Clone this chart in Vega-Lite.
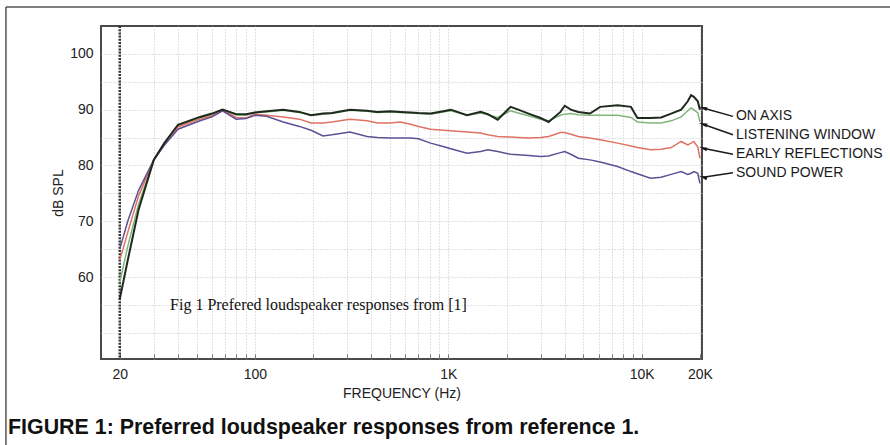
{
  "$schema": "https://vega.github.io/schema/vega-lite/v6.json",
  "width": 601,
  "height": 333,
  "autosize": {"type": "none"},
  "padding": {"left": 101, "top": 26, "right": 188, "bottom": 86},
  "background": "white",
  "config": {
    "view": {"stroke": "#4a4a4a", "strokeWidth": 2},
    "font": "Liberation Sans",
    "axis": {
      "labelFont": "Liberation Sans", "titleFont": "Liberation Sans",
      "labelFontSize": 14, "titleFontSize": 14, "titleFontWeight": "normal",
      "labelColor": "#222", "titleColor": "#222", "domain": false, "ticks": false
    }
  },
  "title": {
    "text": "FIGURE 1: Preferred loudspeaker responses from reference 1.",
    "orient": "bottom", "anchor": "start", "frame": "group",
    "dx": -93, "offset": -13, "baseline": "alphabetic",
    "font": "Liberation Sans", "fontSize": 21.4, "fontWeight": "bold", "color": "#111"
  },
  "datasets": {
    "curves": [
      {"f":20,"s":"ON AXIS","db":56},{"f":22,"s":"ON AXIS","db":63},{"f":25,"s":"ON AXIS","db":72},{"f":30,"s":"ON AXIS","db":81},{"f":34,"s":"ON AXIS","db":84},{"f":40,"s":"ON AXIS","db":87.3},{"f":52,"s":"ON AXIS","db":88.7},{"f":60,"s":"ON AXIS","db":89.3},{"f":68,"s":"ON AXIS","db":90.0},{"f":80,"s":"ON AXIS","db":89.2},{"f":90,"s":"ON AXIS","db":89.2},{"f":100,"s":"ON AXIS","db":89.5},{"f":115,"s":"ON AXIS","db":89.7},{"f":140,"s":"ON AXIS","db":90.0},{"f":170,"s":"ON AXIS","db":89.6},{"f":195,"s":"ON AXIS","db":89.0},{"f":225,"s":"ON AXIS","db":89.3},{"f":250,"s":"ON AXIS","db":89.4},{"f":310,"s":"ON AXIS","db":90.0},{"f":380,"s":"ON AXIS","db":89.8},{"f":430,"s":"ON AXIS","db":89.6},{"f":500,"s":"ON AXIS","db":89.7},{"f":565,"s":"ON AXIS","db":89.6},{"f":640,"s":"ON AXIS","db":89.5},{"f":700,"s":"ON AXIS","db":89.4},{"f":810,"s":"ON AXIS","db":89.3},{"f":940,"s":"ON AXIS","db":89.7},{"f":1030,"s":"ON AXIS","db":90.0},{"f":1250,"s":"ON AXIS","db":89.0},{"f":1470,"s":"ON AXIS","db":89.6},{"f":1600,"s":"ON AXIS","db":89.2},{"f":1800,"s":"ON AXIS","db":88.2},{"f":2100,"s":"ON AXIS","db":90.5},{"f":2300,"s":"ON AXIS","db":90.0},{"f":2600,"s":"ON AXIS","db":89.3},{"f":3000,"s":"ON AXIS","db":88.5},{"f":3300,"s":"ON AXIS","db":87.8},{"f":3800,"s":"ON AXIS","db":89.6},{"f":4000,"s":"ON AXIS","db":90.7},{"f":4300,"s":"ON AXIS","db":90.0},{"f":4700,"s":"ON AXIS","db":89.6},{"f":5400,"s":"ON AXIS","db":89.3},{"f":6100,"s":"ON AXIS","db":90.5},{"f":7500,"s":"ON AXIS","db":90.8},{"f":8800,"s":"ON AXIS","db":90.5},{"f":9500,"s":"ON AXIS","db":88.5},{"f":11100,"s":"ON AXIS","db":88.5},{"f":12600,"s":"ON AXIS","db":88.6},{"f":14200,"s":"ON AXIS","db":89.3},{"f":16000,"s":"ON AXIS","db":90.0},{"f":17300,"s":"ON AXIS","db":91.5},{"f":18000,"s":"ON AXIS","db":92.6},{"f":18600,"s":"ON AXIS","db":92.3},{"f":19500,"s":"ON AXIS","db":91.5},{"f":20000,"s":"ON AXIS","db":90.0},
      {"f":20,"s":"LISTENING WINDOW","db":59},{"f":22,"s":"LISTENING WINDOW","db":65.5},{"f":25,"s":"LISTENING WINDOW","db":73},{"f":30,"s":"LISTENING WINDOW","db":81},{"f":34,"s":"LISTENING WINDOW","db":84},{"f":40,"s":"LISTENING WINDOW","db":87.1},{"f":52,"s":"LISTENING WINDOW","db":88.5},{"f":60,"s":"LISTENING WINDOW","db":89.1},{"f":68,"s":"LISTENING WINDOW","db":90.0},{"f":80,"s":"LISTENING WINDOW","db":89.1},{"f":90,"s":"LISTENING WINDOW","db":89.0},{"f":100,"s":"LISTENING WINDOW","db":89.5},{"f":115,"s":"LISTENING WINDOW","db":89.6},{"f":140,"s":"LISTENING WINDOW","db":89.9},{"f":170,"s":"LISTENING WINDOW","db":89.5},{"f":195,"s":"LISTENING WINDOW","db":89.0},{"f":225,"s":"LISTENING WINDOW","db":89.2},{"f":250,"s":"LISTENING WINDOW","db":89.3},{"f":310,"s":"LISTENING WINDOW","db":89.9},{"f":380,"s":"LISTENING WINDOW","db":89.7},{"f":430,"s":"LISTENING WINDOW","db":89.5},{"f":500,"s":"LISTENING WINDOW","db":89.6},{"f":565,"s":"LISTENING WINDOW","db":89.5},{"f":640,"s":"LISTENING WINDOW","db":89.4},{"f":700,"s":"LISTENING WINDOW","db":89.3},{"f":810,"s":"LISTENING WINDOW","db":89.2},{"f":940,"s":"LISTENING WINDOW","db":89.6},{"f":1030,"s":"LISTENING WINDOW","db":89.8},{"f":1250,"s":"LISTENING WINDOW","db":89.0},{"f":1470,"s":"LISTENING WINDOW","db":89.4},{"f":1600,"s":"LISTENING WINDOW","db":89.1},{"f":1800,"s":"LISTENING WINDOW","db":88.6},{"f":2100,"s":"LISTENING WINDOW","db":89.8},{"f":2300,"s":"LISTENING WINDOW","db":89.4},{"f":2600,"s":"LISTENING WINDOW","db":88.9},{"f":3000,"s":"LISTENING WINDOW","db":88.3},{"f":3300,"s":"LISTENING WINDOW","db":88.0},{"f":3800,"s":"LISTENING WINDOW","db":89.0},{"f":4000,"s":"LISTENING WINDOW","db":89.2},{"f":4300,"s":"LISTENING WINDOW","db":89.3},{"f":4700,"s":"LISTENING WINDOW","db":89.1},{"f":5400,"s":"LISTENING WINDOW","db":89.0},{"f":6100,"s":"LISTENING WINDOW","db":89.0},{"f":7500,"s":"LISTENING WINDOW","db":89.0},{"f":8800,"s":"LISTENING WINDOW","db":88.6},{"f":9500,"s":"LISTENING WINDOW","db":87.8},{"f":11100,"s":"LISTENING WINDOW","db":87.6},{"f":12600,"s":"LISTENING WINDOW","db":87.6},{"f":14200,"s":"LISTENING WINDOW","db":88.0},{"f":16000,"s":"LISTENING WINDOW","db":88.7},{"f":17300,"s":"LISTENING WINDOW","db":89.8},{"f":18000,"s":"LISTENING WINDOW","db":90.3},{"f":18600,"s":"LISTENING WINDOW","db":90.0},{"f":19500,"s":"LISTENING WINDOW","db":89.4},{"f":20000,"s":"LISTENING WINDOW","db":87.8},
      {"f":20,"s":"EARLY REFLECTIONS","db":63},{"f":22,"s":"EARLY REFLECTIONS","db":68},{"f":25,"s":"EARLY REFLECTIONS","db":74.5},{"f":30,"s":"EARLY REFLECTIONS","db":81},{"f":34,"s":"EARLY REFLECTIONS","db":83.8},{"f":40,"s":"EARLY REFLECTIONS","db":86.9},{"f":52,"s":"EARLY REFLECTIONS","db":88.3},{"f":60,"s":"EARLY REFLECTIONS","db":88.9},{"f":68,"s":"EARLY REFLECTIONS","db":89.9},{"f":80,"s":"EARLY REFLECTIONS","db":88.6},{"f":90,"s":"EARLY REFLECTIONS","db":88.5},{"f":100,"s":"EARLY REFLECTIONS","db":89.2},{"f":115,"s":"EARLY REFLECTIONS","db":89.0},{"f":140,"s":"EARLY REFLECTIONS","db":88.7},{"f":170,"s":"EARLY REFLECTIONS","db":88.3},{"f":195,"s":"EARLY REFLECTIONS","db":87.6},{"f":225,"s":"EARLY REFLECTIONS","db":87.6},{"f":250,"s":"EARLY REFLECTIONS","db":87.8},{"f":310,"s":"EARLY REFLECTIONS","db":88.3},{"f":380,"s":"EARLY REFLECTIONS","db":88.0},{"f":430,"s":"EARLY REFLECTIONS","db":87.6},{"f":500,"s":"EARLY REFLECTIONS","db":87.6},{"f":565,"s":"EARLY REFLECTIONS","db":87.8},{"f":640,"s":"EARLY REFLECTIONS","db":87.4},{"f":700,"s":"EARLY REFLECTIONS","db":87.0},{"f":810,"s":"EARLY REFLECTIONS","db":86.5},{"f":940,"s":"EARLY REFLECTIONS","db":86.3},{"f":1030,"s":"EARLY REFLECTIONS","db":86.2},{"f":1250,"s":"EARLY REFLECTIONS","db":86.0},{"f":1470,"s":"EARLY REFLECTIONS","db":85.8},{"f":1600,"s":"EARLY REFLECTIONS","db":85.5},{"f":1800,"s":"EARLY REFLECTIONS","db":85.2},{"f":2100,"s":"EARLY REFLECTIONS","db":85.1},{"f":2300,"s":"EARLY REFLECTIONS","db":85.0},{"f":2600,"s":"EARLY REFLECTIONS","db":84.9},{"f":3000,"s":"EARLY REFLECTIONS","db":85.0},{"f":3300,"s":"EARLY REFLECTIONS","db":85.2},{"f":3800,"s":"EARLY REFLECTIONS","db":85.9},{"f":4000,"s":"EARLY REFLECTIONS","db":85.9},{"f":4300,"s":"EARLY REFLECTIONS","db":85.6},{"f":4700,"s":"EARLY REFLECTIONS","db":85.2},{"f":5400,"s":"EARLY REFLECTIONS","db":84.9},{"f":6100,"s":"EARLY REFLECTIONS","db":84.6},{"f":7500,"s":"EARLY REFLECTIONS","db":84.0},{"f":8800,"s":"EARLY REFLECTIONS","db":83.5},{"f":9500,"s":"EARLY REFLECTIONS","db":83.2},{"f":11100,"s":"EARLY REFLECTIONS","db":82.8},{"f":12600,"s":"EARLY REFLECTIONS","db":82.9},{"f":14200,"s":"EARLY REFLECTIONS","db":83.2},{"f":16000,"s":"EARLY REFLECTIONS","db":84.3},{"f":17300,"s":"EARLY REFLECTIONS","db":83.7},{"f":18000,"s":"EARLY REFLECTIONS","db":84.0},{"f":18600,"s":"EARLY REFLECTIONS","db":84.3},{"f":19500,"s":"EARLY REFLECTIONS","db":83.3},{"f":20000,"s":"EARLY REFLECTIONS","db":81.3},
      {"f":20,"s":"SOUND POWER","db":65},{"f":22,"s":"SOUND POWER","db":70},{"f":25,"s":"SOUND POWER","db":75.5},{"f":30,"s":"SOUND POWER","db":81},{"f":34,"s":"SOUND POWER","db":83.6},{"f":40,"s":"SOUND POWER","db":86.5},{"f":52,"s":"SOUND POWER","db":88.0},{"f":60,"s":"SOUND POWER","db":88.7},{"f":68,"s":"SOUND POWER","db":89.8},{"f":80,"s":"SOUND POWER","db":88.3},{"f":90,"s":"SOUND POWER","db":88.4},{"f":100,"s":"SOUND POWER","db":89.0},{"f":115,"s":"SOUND POWER","db":88.8},{"f":140,"s":"SOUND POWER","db":87.8},{"f":170,"s":"SOUND POWER","db":87.0},{"f":195,"s":"SOUND POWER","db":86.3},{"f":225,"s":"SOUND POWER","db":85.3},{"f":250,"s":"SOUND POWER","db":85.5},{"f":310,"s":"SOUND POWER","db":86.0},{"f":380,"s":"SOUND POWER","db":85.2},{"f":430,"s":"SOUND POWER","db":85.0},{"f":500,"s":"SOUND POWER","db":84.9},{"f":565,"s":"SOUND POWER","db":84.9},{"f":640,"s":"SOUND POWER","db":84.9},{"f":700,"s":"SOUND POWER","db":84.8},{"f":810,"s":"SOUND POWER","db":84.0},{"f":940,"s":"SOUND POWER","db":83.4},{"f":1030,"s":"SOUND POWER","db":83.0},{"f":1250,"s":"SOUND POWER","db":82.2},{"f":1470,"s":"SOUND POWER","db":82.5},{"f":1600,"s":"SOUND POWER","db":82.8},{"f":1800,"s":"SOUND POWER","db":82.5},{"f":2100,"s":"SOUND POWER","db":82.0},{"f":2300,"s":"SOUND POWER","db":81.9},{"f":2600,"s":"SOUND POWER","db":81.8},{"f":3000,"s":"SOUND POWER","db":81.6},{"f":3300,"s":"SOUND POWER","db":81.7},{"f":3800,"s":"SOUND POWER","db":82.3},{"f":4000,"s":"SOUND POWER","db":82.5},{"f":4300,"s":"SOUND POWER","db":82.0},{"f":4700,"s":"SOUND POWER","db":81.3},{"f":5400,"s":"SOUND POWER","db":81.0},{"f":6100,"s":"SOUND POWER","db":80.6},{"f":7500,"s":"SOUND POWER","db":79.8},{"f":8800,"s":"SOUND POWER","db":78.9},{"f":9500,"s":"SOUND POWER","db":78.5},{"f":11100,"s":"SOUND POWER","db":77.7},{"f":12600,"s":"SOUND POWER","db":77.9},{"f":14200,"s":"SOUND POWER","db":78.4},{"f":16000,"s":"SOUND POWER","db":78.9},{"f":17300,"s":"SOUND POWER","db":78.4},{"f":18000,"s":"SOUND POWER","db":78.6},{"f":18600,"s":"SOUND POWER","db":78.9},{"f":19500,"s":"SOUND POWER","db":78.6},{"f":20000,"s":"SOUND POWER","db":76.8}
    ],
    "notes": [
      {"s":"ON AXIS","hx":20740,"hy":90.3,"tx":29640,"ty":88.8},
      {"s":"LISTENING WINDOW","hx":20740,"hy":87.4,"tx":29640,"ty":85.5},
      {"s":"EARLY REFLECTIONS","hx":20740,"hy":83.1,"tx":29640,"ty":82.0},
      {"s":"SOUND POWER","hx":20740,"hy":77.9,"tx":29640,"ty":78.7}
    ],
    "one": [{}]
  },
  "resolve": {"axis": {"x": "independent", "y": "independent"}},
  "layer": [
    {
      "data": {"name": "one"},
      "mark": {"type": "rule", "color": "#555", "strokeWidth": 1.5, "clip": false},
      "encoding": {
        "x": {"datum": 5.16, "type": "quantitative",
          "scale": {"type": "log", "domain": [16, 20500], "nice": false},
          "axis": {"orient": "bottom", "values": [20,30,40,50,60,70,80,90,100,200,300,400,500,600,700,800,900,1000,2000,3000,4000,5000,6000,7000,8000,9000,10000,20000],
            "grid": true, "gridColor": "#c4c4c4", "gridDash": [1, 2], "gridWidth": 1,
            "labels": false, "ticks": true, "tickSize": -5, "tickColor": "#777", "title": null, "domain": false}},
        "x2": {"datum": 1000000},
        "y": {"datum": 108.4, "type": "quantitative",
          "scale": {"domain": [45.3, 105], "nice": false, "zero": false},
          "axis": {"orient": "left", "values": [50,55,60,65,70,75,80,85,90,95,100],
            "grid": true, "gridColor": "#c4c4c4", "gridDash": [1, 2], "gridWidth": 1,
            "labels": false, "ticks": false, "title": null, "domain": false}}
      }
    },
    {
      "data": {"name": "one"},
      "mark": {"type": "rule", "color": "#555", "strokeWidth": 1.5, "clip": false},
      "encoding": {
        "x": {"datum": 5.16, "type": "quantitative", "axis": null},
        "y": {"datum": 108.4, "type": "quantitative", "axis": null},
        "y2": {"datum": 29.7}
      }
    },
    {
      "data": {"name": "one"},
      "mark": {"type": "rule", "color": "#333", "strokeWidth": 2.5, "strokeDash": [2, 1.2]},
      "encoding": {"x": {"datum": 20, "type": "quantitative", "axis": null}}
    },
    {
      "data": {"name": "curves"},
      "transform": [{"filter": "datum.s !== 'ON AXIS'"}],
      "mark": {"type": "line", "strokeWidth": 1.5},
      "encoding": {
        "x": {"field": "f", "type": "quantitative",
          "axis": {"orient": "bottom", "values": [20, 100, 1000, 10000, 20000],
            "labelExpr": "datum.value >= 1000 ? (datum.value / 1000) + 'K' : datum.value",
            "grid": false, "title": "FREQUENCY (Hz)", "labelPadding": 8, "titlePadding": 5, "labelFlush": false}},
        "y": {"field": "db", "type": "quantitative",
          "axis": {"orient": "left", "values": [60, 70, 80, 90, 100], "grid": false,
            "title": "dB SPL", "labelPadding": 8, "titlePadding": 4}},
        "color": {"field": "s", "type": "nominal", "legend": null,
          "scale": {"domain": ["ON AXIS", "LISTENING WINDOW", "EARLY REFLECTIONS", "SOUND POWER"],
            "range": ["#1f2a1f", "#82b57c", "#e07262", "#5f4f94"]}}
      }
    },
    {
      "data": {"name": "curves"},
      "transform": [{"filter": "datum.s === 'ON AXIS'"}],
      "mark": {"type": "line", "strokeWidth": 2},
      "encoding": {
        "x": {"field": "f", "type": "quantitative", "axis": null},
        "y": {"field": "db", "type": "quantitative", "axis": null},
        "color": {"field": "s", "type": "nominal", "legend": null}
      }
    },
    {
      "data": {"name": "one"},
      "mark": {"type": "text", "text": "Fig 1 Prefered loudspeaker responses from [1]",
        "font": "Liberation Serif", "fontSize": 16, "align": "left", "baseline": "middle", "color": "#111"},
      "encoding": {
        "x": {"datum": 36.4, "type": "quantitative", "axis": null},
        "y": {"datum": 55, "type": "quantitative", "axis": null}
      }
    },
    {
      "data": {"name": "notes"},
      "mark": {"type": "rule", "color": "#1a1a1a", "strokeWidth": 1.5, "clip": false},
      "encoding": {
        "x": {"field": "tx", "type": "quantitative", "axis": null},
        "y": {"field": "ty", "type": "quantitative", "axis": null},
        "x2": {"field": "hx"},
        "y2": {"field": "hy"}
      }
    },
    {
      "data": {"name": "notes"},
      "mark": {"type": "point", "shape": "M -1 0 L 1 -0.45 L 1 0.45 Z", "filled": true, "color": "#1a1a1a", "size": 70, "opacity": 1, "clip": false},
      "encoding": {
        "x": {"field": "hx", "type": "quantitative", "axis": null},
        "y": {"field": "hy", "type": "quantitative", "axis": null},
        "angle": {"field": "s", "type": "nominal", "legend": null,
          "scale": {"domain": ["ON AXIS", "LISTENING WINDOW", "EARLY REFLECTIONS", "SOUND POWER"],
            "range": [15.6, 19.5, 11.5, 351.5]}}
      }
    },
    {
      "data": {"name": "notes"},
      "mark": {"type": "text", "align": "left", "baseline": "middle", "dx": 3,
        "font": "Liberation Sans", "fontSize": 14, "color": "#1a1a1a", "clip": false},
      "encoding": {
        "x": {"field": "tx", "type": "quantitative", "axis": null},
        "y": {"field": "ty", "type": "quantitative", "axis": null},
        "text": {"field": "s", "type": "nominal"}
      }
    }
  ]
}
